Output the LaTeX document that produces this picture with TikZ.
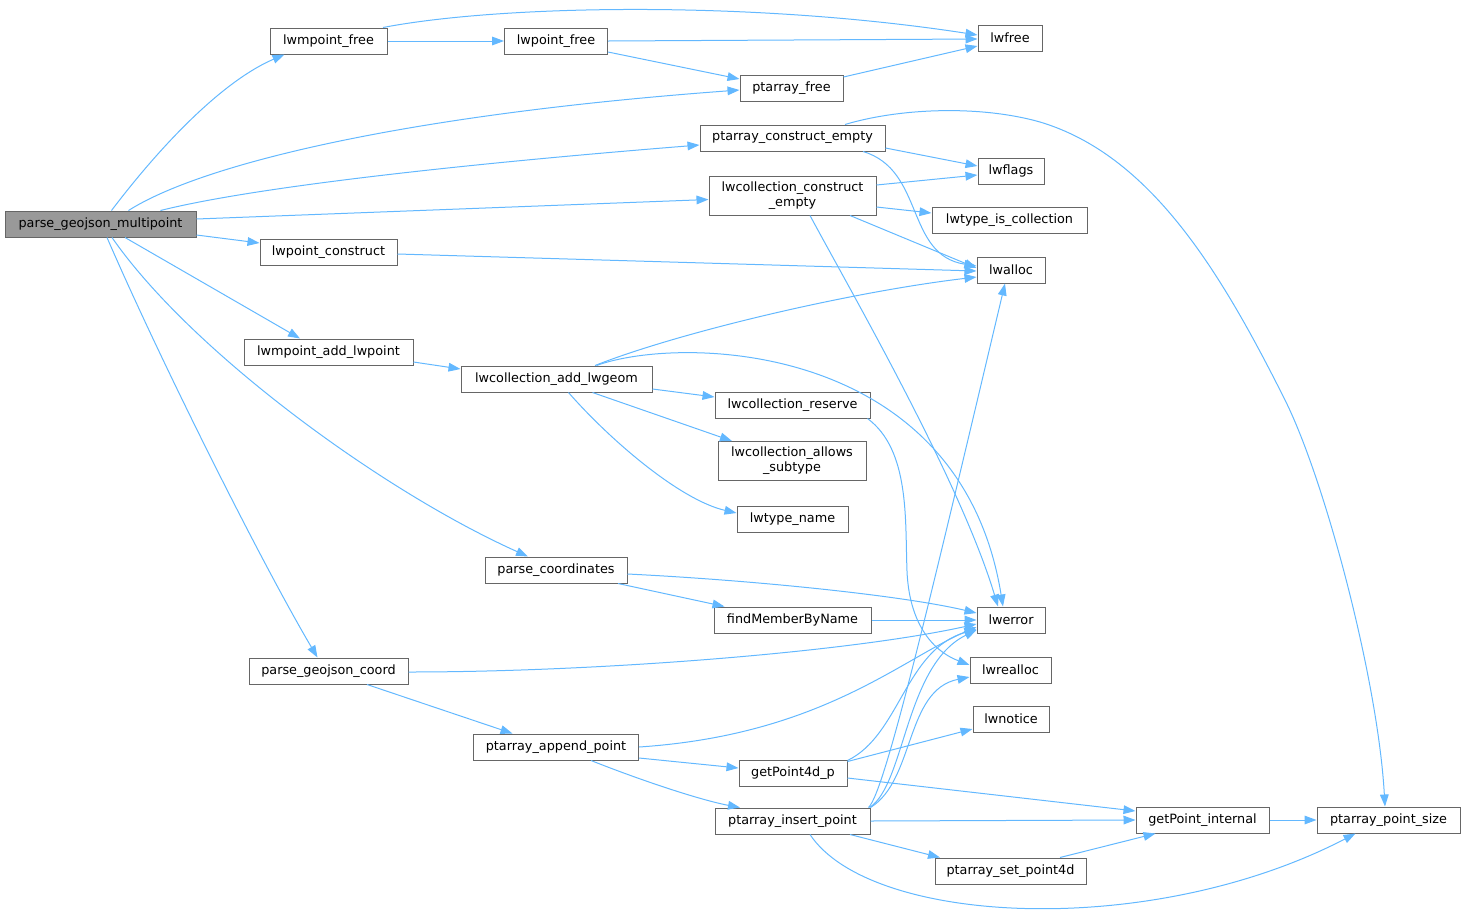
\documentclass[tikz,border=0pt]{standalone}
\usepackage{fontspec}
\setmainfont{DejaVu Sans}
\usetikzlibrary{arrows.meta,calc}
\definecolor{edgec}{HTML}{63B8FF}
\definecolor{bordc}{HTML}{666666}
\definecolor{rootc}{HTML}{999999}
\begin{document}
\begin{tikzpicture}[x=0.75pt,y=-0.75pt,
  fn/.style={draw=bordc, line width=0.75pt, fill=white, inner sep=0pt, text=black,
    font=\fontsize{9.6}{11.25}\selectfont, align=center, minimum height=19.5pt},
  two/.style={minimum height=29.25pt},
  root/.style={fill=rootc},
  e/.style={draw=edgec, line width=0.75pt, -{Triangle[length=9pt,width=6.5pt]}},
]
\useasboundingbox (0,0) rectangle (1465,915);

% nodes
\node[fn,root,minimum width=143.25pt] (pgm) at (100.5,224) {parse\_geojson\_multipoint};
\node[fn,minimum width=87.75pt] (lmf) at (328.5,41) {lwmpoint\_free};
\node[fn,minimum width=77.25pt] (lpf) at (556,41) {lwpoint\_free};
\node[fn,minimum width=48pt] (lwfree) at (1010,38) {lwfree};
\node[fn,minimum width=77.25pt] (paf) at (791.5,88) {ptarray\_free};
\node[fn,minimum width=138.75pt] (pce) at (792.5,138) {ptarray\_construct\_empty};
\node[fn,minimum width=49.5pt] (lwflags) at (1011,171) {lwflags};
\node[fn,two,minimum width=125.25pt] (lcce) at (792.5,195.5) {lwcollection\_construct\\\_empty};
\node[fn,minimum width=116.25pt] (ltic) at (1009.5,220) {lwtype\_is\_collection};
\node[fn,minimum width=102.75pt] (lpc) at (328.5,252) {lwpoint\_construct};
\node[fn,minimum width=51pt] (lwalloc) at (1011,270) {lwalloc};
\node[fn,minimum width=126.75pt] (lmap) at (328.5,352) {lwmpoint\_add\_lwpoint};
\node[fn,minimum width=143.25pt] (lcag) at (556.5,379) {lwcollection\_add\_lwgeom};
\node[fn,minimum width=116.25pt] (lcr) at (792.5,405) {lwcollection\_reserve};
\node[fn,two,minimum width=111pt] (lcas) at (792,461) {lwcollection\_allows\\\_subtype};
\node[fn,minimum width=83.25pt] (ltn) at (792.5,519) {lwtype\_name};
\node[fn,minimum width=106.5pt] (pc) at (556,570) {parse\_coordinates};
\node[fn,minimum width=117.75pt] (fmbn) at (792.5,620) {findMemberByName};
\node[fn,minimum width=51pt] (lwerror) at (1011,620) {lwerror};
\node[fn,minimum width=119.25pt] (pgc) at (328.5,671) {parse\_geojson\_coord};
\node[fn,minimum width=60.75pt] (lwrealloc) at (1010.5,670) {lwrealloc};
\node[fn,minimum width=57pt] (lwnotice) at (1011,719) {lwnotice};
\node[fn,minimum width=123.75pt] (pae) at (556,747) {ptarray\_append\_point};
\node[fn,minimum width=81pt] (gp4) at (793,773) {getPoint4d\_p};
\node[fn,minimum width=116.25pt] (pip) at (792.5,821) {ptarray\_insert\_point};
\node[fn,minimum width=99.75pt] (gpi) at (1202.5,820) {getPoint\_internal};
\node[fn,minimum width=107.25pt] (pps) at (1388.5,820) {ptarray\_point\_size};
\node[fn,minimum width=113.25pt] (psp) at (1010.5,871) {ptarray\_set\_point4d};

% edges from parse_geojson_multipoint
\draw[e] ($(pgm.north)+(11,0)$) .. controls (165,140) and (225,80) .. ($(lmf.south)+(-44,0)$);
\draw[e] ($(pgm.north)+(28,0)$) .. controls (200,165) and (400,115) .. ($(paf.west)+(0,2)$);
\draw[e] ($(pgm.north)+(60,0)$) .. controls (250,188) and (450,165) .. ($(pce.west)+(0,7)$);
\draw[e] ($(pgm.east)+(0,-5)$) -- ($(lcce.west)+(0,4)$);
\draw[e] ($(pgm.east)+(0,11)$) -- ($(lpc.west)+(0,-9)$);
\draw[e] ($(pgm.south)+(24.5,0)$) -- ($(lmap.north)+(-28.5,0)$);
\draw[e] ($(pgm.south)+(11.5,0)$) .. controls (190,350) and (380,490) .. ($(pc.north)+(-28,0)$);
\draw[e] ($(pgm.south)+(6.5,0)$) .. controls (160,360) and (260,560) .. ($(pgc.north)+(-11,0)$);

% upper part
\draw[e] ($(lmf.north)+(54.5,0)$) .. controls (500,5) and (750,0) .. ($(lwfree.west)+(0,-3)$);
\draw[e] (lmf.east) -- (lpf.west);
\draw[e] (lpf.east) -- ($(lwfree.west)+(0,1)$);
\draw[e] ($(lpf.east)+(0,11)$) -- ($(paf.west)+(0,-9)$);
\draw[e] ($(paf.east)+(0,-11)$) -- ($(lwfree.west)+(0,8)$);
\draw[e] ($(pce.east)+(0,10)$) -- ($(lwflags.west)+(0,-5)$);
\draw[e] ($(pce.south)+(70.5,0)$) .. controls (925,170) and (905,255) .. ($(lwalloc.west)+(0,-4)$);
\draw[e] ($(pce.north)+(52.5,0)$) .. controls (900,108) and (980,105) .. (1040,122)
   .. controls (1150,155) and (1220,270) .. (1285,400)
   .. controls (1325,480) and (1378,680) .. ($(pps.north)+(-3.5,0)$);
\draw[e] ($(lcce.east)+(0,-10.5)$) -- ($(lwflags.west)+(0,4)$);
\draw[e] ($(lcce.east)+(0,11.5)$) -- ($(ltic.west)+(0,-7)$);
\draw[e] ($(lcce.south)+(57.5,0)$) -- ($(lwalloc.west)+(0,-2)$);
\draw[e] ($(lcce.south)+(17.5,0)$) .. controls (850,290) and (960,480) .. ($(lwerror.north)+(-13,0)$);
\draw[e] ($(lpc.east)+(0,2)$) -- ($(lwalloc.west)+(0,1)$);

% lwcollection_add_lwgeom group
\draw[e] ($(lmap.east)+(0,10)$) -- ($(lcag.west)+(0,-10)$);
\draw[e] ($(lcag.north)+(38.5,0)$) .. controls (680,332) and (850,292) .. ($(lwalloc.west)+(0,7)$);
\draw[e] ($(lcag.north)+(40,0)$) .. controls (680,335) and (960,340) .. ($(lwerror.north)+(-8,0)$);
\draw[e] ($(lcag.east)+(0,10)$) -- ($(lcr.west)+(0,-8)$);
\draw[e] ($(lcag.south)+(36,0)$) -- ($(lcas.north)+(-60,0)$);
\draw[e] ($(lcag.south)+(12,0)$) .. controls (610,440) and (680,500) .. ($(ltn.west)+(0,-6)$);
\draw[e] ($(lcr.south)+(75,0)$) .. controls (910,450) and (905,520) .. (907,571)
   .. controls (909,620) and (930,650) .. ($(lwrealloc.west)+(0,-5)$);

% parse_coordinates group
\draw[e] ($(pc.east)+(0,4)$) .. controls (750,580) and (900,595) .. ($(lwerror.west)+(0,-7)$);
\draw[e] ($(pc.south)+(62,0)$) -- ($(fmbn.north)+(-68,0)$);
\draw[e] (fmbn.east) -- (lwerror.west);

% parse_geojson_coord group
\draw[e] ($(pgc.east)+(0,1)$) .. controls (600,672) and (850,652) .. ($(lwerror.west)+(0,4)$);
\draw[e] ($(pgc.south)+(38.5,0)$) -- ($(pae.north)+(-43.5,0)$);
\draw[e] (pae.east) .. controls (820,735) and (900,660) .. ($(lwerror.west)+(0,7)$);
\draw[e] ($(pae.east)+(0,11)$) -- ($(gp4.west)+(0,-5)$);
\draw[e] ($(pae.south)+(35,0)$) .. controls (640,780) and (700,800) .. ($(pip.north)+(-52.5,0)$);

% getPoint4d_p
\draw[e] ($(gp4.north east)+(0,1)$) .. controls (900,735) and (905,650) .. ($(lwerror.west)+(0,9)$);
\draw[e] ($(gp4.north east)+(0,2)$) -- ($(lwnotice.west)+(0,10)$);
\draw[e] ($(gp4.east)+(0,5)$) -- ($(gpi.west)+(0,-9)$);

% ptarray_insert_point
\draw[e] ($(pip.north east)+(-2,0)$) .. controls (885,792) and (930,600) .. ($(lwalloc.south)+(-6,0)$);
\draw[e] ($(pip.north east)+(-1,0)$) .. controls (905,785) and (905,665) .. ($(lwerror.west)+(0,10)$);
\draw[e] (pip.north east) .. controls (915,780) and (905,690) .. ($(lwrealloc.west)+(0,7)$);
\draw[e] (pip.east) -- (gpi.west);
\draw[e] ($(pip.south)+(57.5,0)$) -- ($(psp.north)+(-70.5,0)$);
\draw[e] ($(pip.south)+(17.5,0)$) .. controls (870,925) and (1150,940) .. ($(pps.south)+(-33,0)$);

% getPoint_internal etc.
\draw[e] (gpi.east) -- (pps.west);
\draw[e] ($(psp.north)+(49.5,0)$) -- ($(gpi.south)+(-47,0)$);

\end{tikzpicture}
\end{document}
